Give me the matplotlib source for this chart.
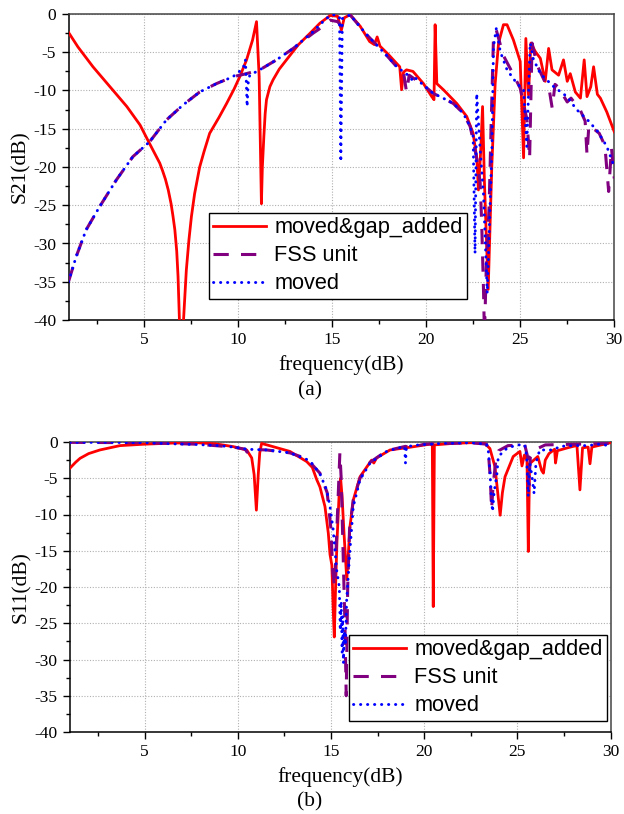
import matplotlib
matplotlib.use("Agg")
import matplotlib.pyplot as plt
from matplotlib.ticker import MultipleLocator

plt.rcParams['axes.unicode_minus'] = False

# %%
# S21 traces (panel a)
s21_gap_f = [1.0, 1.5, 2.3, 3.2, 4.1, 4.8, 5.3, 5.85, 6.0, 6.15, 6.3, 6.45, 6.55, 6.65, 6.75,
             6.82, 6.9, 7.0, 7.1, 7.26, 7.4, 7.53, 7.7, 7.97, 8.2, 8.5, 9.0, 9.4, 9.8, 10.1,
             10.46, 10.78, 10.99, 11.13, 11.25, 11.3, 11.38, 11.45, 11.52, 11.7, 11.87,
             12.2, 12.58, 13.2, 13.8, 14.36, 14.9, 15.3, 15.5, 15.65, 15.96, 16.5,
             17.0, 17.25, 17.4, 17.55, 18.0, 18.6, 18.7, 18.8, 18.96, 19.3, 19.86, 20.3,
             20.42, 20.48, 20.57, 20.92, 21.63, 22.16, 22.5, 22.7, 22.78, 22.9, 23.0, 23.1,
             23.3, 23.49, 23.67, 23.85, 24.11, 24.3, 24.64, 25.0, 25.18, 25.3, 25.44, 25.57,
             25.8, 26.07, 26.33, 26.51, 26.69, 27.04, 27.3, 27.5, 27.66, 27.93, 28.2, 28.4,
             28.55, 28.75, 28.9, 29.1, 29.26, 29.6, 30.0]
s21_gap_db = [-2.4, -4.3, -6.9, -9.5, -12.1, -14.5, -16.9, -19.5, -20.5, -21.6, -23.0, -24.8,
              -26.4, -28.2, -31.0, -34.3, -40.5, -45.0, -40.5, -33.5, -29.5, -26.5, -23.5,
              -20.0, -18.0, -15.6, -13.5, -11.7, -9.8, -8.2, -6.0, -3.4, -1.0, -8.2, -24.8,
              -20.0, -16.0, -13.0, -11.2, -9.5, -8.6, -7.2, -6.0, -4.05, -2.6, -1.2, -0.2,
              -0.3, -2.1, -0.5, -0.1, -1.6, -3.6, -4.0, -3.0, -4.2, -5.3, -6.9, -9.9, -7.6,
              -7.3, -7.5, -9.1, -10.8, -11.2, -1.4, -9.1, -9.9, -11.7, -13.4, -15.6, -19.0,
              -23.0, -18.0, -12.1, -22.0, -36.0, -20.0, -9.1, -3.8, -1.4, -1.4, -3.4, -6.2,
              -18.8, -3.2, -10.6, -3.8, -4.9, -5.8, -8.8, -4.5, -7.3, -8.0, -6.0, -8.8, -7.8,
              -10.2, -11.0, -6.0, -10.8, -9.5, -6.9, -10.5, -11.0, -12.8, -15.4]

s21_fss_f = [1.0, 1.41, 1.94, 2.65, 3.54, 4.42, 5.31, 6.2, 7.08, 7.97, 8.86, 9.74, 10.28,
             10.6, 11.16, 12.05, 12.94, 14.0, 14.3, 14.9, 15.3, 15.5, 15.7, 15.96, 16.84,
             17.9, 18.44, 18.8, 18.96, 19.1, 19.45, 19.86, 20.39, 20.75, 21.45, 21.98,
             22.34, 22.5, 22.7, 22.87, 22.95, 23.05, 23.1, 23.2, 23.35, 23.45, 23.58, 23.73,
             24.1, 24.55, 25.0, 25.35, 25.5, 25.63, 25.9, 26.3, 26.55, 26.7, 26.85, 27.0,
             27.5, 27.7, 28.2, 28.45, 28.55, 28.65, 29.2, 29.5, 29.7, 29.85, 30.0]
s21_fss_db = [-35.0, -31.7, -28.2, -25.2, -21.7, -18.65, -16.7, -13.86, -11.9, -10.2, -9.1,
              -8.2, -7.9, -7.7, -7.3, -6.0, -4.5, -2.5, -2.0, -0.8, -1.0, -1.6, -0.5, -0.1,
              -2.7, -5.4, -6.9, -7.6, -10.2, -8.0, -8.6, -9.3, -10.4, -10.8, -11.7, -13.0,
              -14.7, -16.5, -19.0, -22.0, -27.0, -36.0, -42.0, -33.0, -25.0, -15.0, -3.2,
              -2.1, -5.4, -7.5, -9.7, -13.7, -18.9, -3.8, -6.7, -8.8, -10.0, -12.3, -9.2,
              -9.5, -11.5, -11.0, -12.6, -14.0, -18.4, -14.5, -15.6, -17.2, -23.2, -17.5,
              -21.5]

s21_moved_f = [1.0, 1.41, 1.94, 2.65, 3.54, 4.42, 5.31, 6.2, 7.08, 7.97, 8.86, 9.74, 10.28,
               10.4, 10.45, 10.49, 10.55, 10.63, 11.16, 12.05, 12.94, 14.0, 14.7, 15.1,
               15.4, 15.47, 15.55, 15.96, 16.84, 17.9, 18.44, 19.15, 19.3, 19.45, 19.86,
               20.39, 20.75, 21.45, 21.98, 22.34, 22.5, 22.6, 22.69, 22.87, 23.05, 23.25,
               23.5, 23.58, 23.73, 23.94, 24.3, 24.83, 25.18, 25.35, 25.53, 25.7, 26.07,
               26.78, 27.49, 28.0, 28.6, 29.1, 29.6, 30.0]
s21_moved_db = [-35.0, -31.7, -28.2, -25.2, -21.7, -18.65, -16.7, -13.86, -11.9, -10.2, -9.1,
                -8.2, -7.1, -6.0, -9.0, -12.1, -9.0, -8.0, -7.3, -6.0, -4.5, -2.3, -0.56,
                -0.1, -0.4, -19.3, -0.6, -0.1, -2.7, -5.4, -6.9, -8.2, -8.8, -8.4, -9.3,
                -10.4, -10.8, -11.7, -13.0, -14.7, -16.0, -31.3, -10.4, -17.6, -23.6, -36.5,
                -17.4, -4.3, -1.9, -4.9, -7.3, -9.1, -9.9, -17.3, -3.8, -5.9, -7.8, -9.5,
                -10.8, -12.5, -13.9, -15.3, -17.3, -20.0]

# %%
# S11 traces (panel b)
s11_gap_f = [1.0, 1.3, 1.54, 2.0, 2.6, 3.68, 5.0, 6.5, 7.8, 8.8, 9.76, 10.48, 10.75, 10.88,
             11.0, 11.1, 11.18, 11.28, 11.7, 12.8, 13.7, 14.0, 14.24, 14.41, 14.68, 14.86,
             14.95, 15.05, 15.12, 15.18, 15.25, 15.32, 15.45, 15.52, 15.6, 15.7, 15.85,
             16.02, 16.2, 16.56, 17.18, 17.3, 17.45, 18.17, 19.3, 20.3, 20.44, 20.49, 20.55,
             21.5, 22.5, 23.26, 23.53, 23.8, 23.95, 24.08, 24.2, 24.34, 24.78, 25.14, 25.25,
             25.38, 25.52, 25.59, 25.66, 26.1, 26.3, 26.4, 26.5, 26.7, 27.0, 27.05, 27.15,
             27.7, 28.0, 28.2, 28.36, 28.5, 28.8, 28.9, 29.0, 29.5, 30.0]
s11_gap_db = [-3.6, -2.8, -2.25, -1.6, -1.1, -0.5, -0.3, -0.15, -0.1, -0.25, -0.64, -1.1,
              -2.2, -4.5, -9.4, -4.5, -1.5, -0.2, -0.5, -1.3, -2.7, -3.5, -5.2, -6.2, -8.9,
              -12.6, -15.5, -17.0, -23.0, -26.9, -20.0, -14.0, -6.6, -5.0, -7.6, -12.5,
              -19.0, -11.7, -8.0, -4.8, -2.5, -2.9, -2.2, -1.1, -0.7, -0.3, -0.4, -22.7,
              -0.4, -0.2, -0.1, -0.2, -0.9, -3.4, -7.0, -10.1, -7.0, -4.8, -2.0, -1.3, -3.3,
              -1.8, -2.5, -15.1, -3.0, -2.0, -3.9, -4.3, -2.5, -1.6, -1.0, -2.9, -1.2, -0.8,
              -0.6, -0.5, -6.6, -0.8, -0.7, -3.0, -0.7, -0.4, -0.1]

s11_fss_f = [1.0, 5.0, 7.8, 9.77, 10.4, 10.5, 10.6, 11.56, 12.8, 13.7, 14.41, 14.8, 15.0,
             15.1, 15.2, 15.35, 15.48, 15.55, 15.65, 15.75, 15.82, 15.9, 16.0, 16.2, 16.56,
             17.1, 18.0, 19.0, 19.3, 20.0, 22.5, 23.35, 23.45, 23.55, 23.62, 23.7, 23.85,
             24.0, 24.5, 25.4, 25.55, 25.62, 25.7, 26.0, 26.5, 30.0]
s11_fss_db = [-0.05, -0.1, -0.3, -0.7, -1.0, -1.4, -1.0, -1.1, -1.5, -2.3, -4.3, -7.0, -12.0,
              -18.0, -20.0, -10.0, -1.5, -5.0, -15.0, -25.0, -35.0, -20.0, -12.0, -8.0,
              -5.0, -2.8, -1.2, -0.6, -0.8, -0.3, -0.1, -0.3, -1.5, -5.0, -9.3, -6.0, -2.5,
              -1.2, -0.5, -0.4, -2.0, -6.0, -2.0, -1.0, -0.4, -0.2]

s11_moved_f = [1.0, 3.0, 5.0, 6.5, 7.8, 9.0, 9.77, 10.5, 11.56, 12.8, 13.7, 14.0, 14.41,
               14.77, 14.95, 15.12, 15.31, 15.45, 15.5, 15.55, 15.6, 15.63, 15.67, 15.72,
               15.78, 15.84, 16.02, 16.2, 16.56, 17.1, 17.99, 18.5, 18.95, 19.0, 19.05,
               19.7, 21.0, 22.5, 23.35, 23.44, 23.53, 23.6, 23.67, 23.75, 23.9, 23.98,
               24.43, 24.97, 25.4, 25.5, 25.59, 25.68, 25.78, 25.9, 26.0, 26.2, 26.93, 27.3,
               28.0, 28.8, 29.3, 30.0]
s11_moved_db = [-0.05, -0.05, -0.1, -0.25, -0.35, -0.5, -0.7, -1.0, -1.1, -1.5, -2.4, -3.0,
                -4.4, -6.6, -8.9, -12.1, -17.7, -20.0, -26.0, -22.0, -29.0, -24.0, -30.5,
                -26.0, -28.0, -22.0, -14.9, -8.9, -5.2, -2.9, -1.3, -0.9, -0.64, -2.9, -0.64,
                -0.4, -0.2, -0.1, -0.3, -1.1, -3.9, -7.5, -9.6, -7.0, -4.6, -2.0, -0.9, -0.4,
                -0.4, -2.0, -7.5, -3.0, -4.6, -7.1, -2.9, -1.1, -1.1, -0.6, -0.5, -0.5, -0.3,
                -0.5]

labels = ["moved&gap_added", "FSS unit", "moved"]

# %%
fig = plt.figure(figsize=(6.24, 8.14), dpi=100)
W, H = 624.0, 814.0
ax1 = fig.add_axes([68.5 / W, 1 - 320 / H, 545.8 / W, 306 / H])
ax2 = fig.add_axes([70 / W, 1 - 732 / H, 540.5 / W, 290 / H])

serif = "Liberation Serif"
sans = "Liberation Sans"

panels = [
    (ax1, s21_gap_f, s21_gap_db, s21_fss_f, s21_fss_db, s21_moved_f, s21_moved_db,
     "S21(dB)", "(a)", 391, (209, 213)),
    (ax2, s11_gap_f, s11_gap_db, s11_fss_f, s11_fss_db, s11_moved_f, s11_moved_db,
     "S11(dB)", "(b)", 802, (349, 635)),
]

for ax, gf, gd, ff, fd, mf, md, ylab, tag, tag_y, leg_xy in panels:
    ax.plot(gf, gd, color="#ff0000", lw=2.0, label=labels[0], zorder=3)
    ax.plot(ff, fd, color="#800080", lw=2.2, dashes=(5, 4), label=labels[1], zorder=4)
    ax.plot(mf, md, color="#0000ff", lw=2.1, dashes=(0.1, 2.3),
            dash_capstyle="round", label=labels[2], zorder=5)

    ax.set_xlim(1, 30)
    ax.set_ylim(-40, 0)
    ax.xaxis.set_major_locator(MultipleLocator(5))
    ax.xaxis.set_minor_locator(MultipleLocator(2.5))
    ax.yaxis.set_major_locator(MultipleLocator(5))
    ax.yaxis.set_minor_locator(MultipleLocator(2.5))
    ax.tick_params(which="major", direction="out", length=5, width=1.0, pad=4,
                   labelsize=12.5)
    ax.tick_params(which="minor", direction="out", length=3, width=1.0)
    for lab in ax.get_xticklabels() + ax.get_yticklabels():
        lab.set_fontfamily(serif)
    ax.grid(True, which="major", linestyle=(0, (1, 1.5)), color="#b0b0b0", lw=0.8)
    for side in ["left", "bottom"]:
        ax.spines[side].set_linewidth(1.1)
        ax.spines[side].set_color("black")
    for side in ["top", "right"]:
        ax.spines[side].set_linewidth(1.1)
        ax.spines[side].set_color("#444444")

    ax.set_xlabel("frequency(dB)", fontfamily=serif, fontsize=15.5, labelpad=5)
    ax.set_ylabel(ylab, fontfamily=serif, fontsize=15.5, labelpad=2)
    fig.text(310 / W, 1 - tag_y / H, tag, fontfamily=serif, fontsize=15.5,
             ha="center", va="center")

    leg = ax.legend(loc="upper left", bbox_to_anchor=(leg_xy[0] / W, 1 - leg_xy[1] / H),
                    bbox_transform=fig.transFigure, borderaxespad=0,
                    prop={"family": sans, "size": 15.7}, fancybox=False,
                    framealpha=1, edgecolor="black", handlelength=2.4,
                    handletextpad=0.4, borderpad=0.2, labelspacing=0.32)
    leg.get_frame().set_linewidth(1.0)

plt.savefig("out.png", dpi=100)
